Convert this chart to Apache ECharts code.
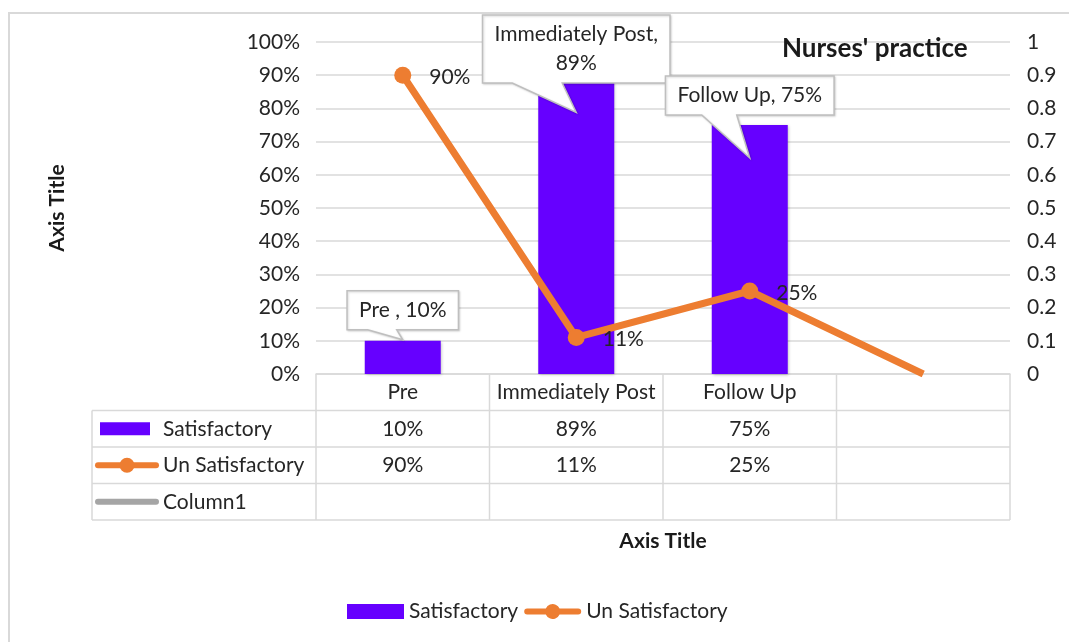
<!DOCTYPE html>
<html>
<head>
<meta charset="utf-8">
<script src="https://cdn.jsdelivr.net/npm/echarts@6/dist/echarts.min.js"></script>
<style>
  html, body { margin: 0; padding: 0; background: #fff; }
  #main { width: 1069px; height: 642px; }
</style>
</head>
<body>
<div id="main"></div>
<script>
// data
var categories = ['Pre ', 'Immediately Post', 'Follow Up', ''];
var satisfactory = [0.10, 0.89, 0.75, null];
var unSatisfactory = [0.90, 0.11, 0.25, null];
var column1 = [null, null, null, null];
var seriesNames = ['Satisfactory', 'Un Satisfactory', 'Column1'];
var leftTicks = ['0%', '10%', '20%', '30%', '40%', '50%', '60%', '70%', '80%', '90%', '100%'];
var rightTicks = ['0', '0.1', '0.2', '0.3', '0.4', '0.5', '0.6', '0.7', '0.8', '0.9', '1'];

// look
var FONT = 'Lato';
var FS = 21;
var PURPLE = '#6600ff';
var ORANGE = '#ed7d31';
var GRAY = '#a5a5a5';
var LINE = '#d9d9d9';
var TEXT = '#262626';
// thick line with a dot, like the Excel legend key
var LINE_DOT_ICON = 'path://M3,5 L21.63,5 A7.5,7.5 0 0 1 35.37,5 L54,5 A3,3 0 0 1 54,11 L35.37,11 A7.5,7.5 0 0 1 21.63,11 L3,11 A3,3 0 0 1 3,5 Z';

// callout placement relative to the bar top (Excel moved them by hand)
var calloutLayout = [
  { gap: 11, tipDrop: -1, baseL: -35, baseR: -6 },
  { gap: -4.5, tipDrop: 34, baseL: -64, baseR: -14 },
  { gap: 10, tipDrop: 33, baseL: -48, baseR: -13 }
];

function pct(v) {
  return Math.round(v * 100) + '%';
}

var chart = echarts.init(document.getElementById('main'));

var option = {
  animation: false,
  textStyle: { fontFamily: FONT },
  title: {
    text: "Nurses' practice",
    left: 782,
    top: 36,
    padding: 0,
    textStyle: { fontFamily: FONT, fontSize: 26, fontWeight: 'bold', color: '#1a1a1a' }
  },
  legend: {
    left: 347,
    top: 601,
    padding: 0,
    itemWidth: 57,
    itemHeight: 15,
    itemGap: 6,
    textStyle: { fontFamily: FONT, fontSize: FS, color: TEXT },
    data: [
      { name: seriesNames[0], icon: 'rect' },
      { name: seriesNames[1], icon: LINE_DOT_ICON }
    ]
  },
  grid: {
    left: 316,
    right: 59,
    top: 42,
    bottom: 268,
    containLabel: false,
    outerBoundsMode: 'none'
  },
  xAxis: {
    type: 'category',
    data: categories,
    boundaryGap: true,
    axisLine: { show: true, lineStyle: { color: LINE, width: 1.5 } },
    axisTick: { show: false },
    axisLabel: {
      interval: 0,
      margin: 8,
      fontSize: FS,
      color: TEXT,
      formatter: function (v) { return v.trim(); }
    },
    name: 'Axis Title',
    nameLocation: 'middle',
    nameGap: 157,
    nameTextStyle: { fontFamily: FONT, fontSize: FS, fontWeight: 'bold', color: '#1a1a1a' }
  },
  yAxis: [{
    type: 'value',
    min: 0,
    max: 1,
    interval: 0.1,
    axisLine: { show: false },
    axisTick: { show: false },
    axisLabel: {
      margin: 16,
      fontSize: FS,
      color: TEXT,
      formatter: function (v) { return leftTicks[Math.round(v * 10)]; }
    },
    splitLine: { show: true, lineStyle: { color: LINE, width: 1.5 } },
    name: 'Axis Title',
    nameLocation: 'middle',
    nameRotate: 90,
    nameGap: 248,
    nameTextStyle: { fontFamily: FONT, fontSize: FS, fontWeight: 'bold', color: '#1a1a1a' }
  }, {
    type: 'value',
    position: 'right',
    min: 0,
    max: 1,
    interval: 0.1,
    axisLine: { show: false },
    axisTick: { show: false },
    axisLabel: {
      margin: 17,
      fontSize: FS,
      color: TEXT,
      formatter: function (v) { return rightTicks[Math.round(v * 10)]; }
    },
    splitLine: { show: false }
  }],
  series: [{
    name: seriesNames[0],
    type: 'bar',
    data: satisfactory,
    barWidth: 76,
    itemStyle: {
      color: PURPLE,
      shadowColor: 'rgba(0,0,0,0.25)',
      shadowBlur: 3,
      shadowOffsetX: 1,
      shadowOffsetY: 1
    },
    z: 2
  }, {
    name: seriesNames[1],
    type: 'line',
    yAxisIndex: 1,
    // Excel shows the empty cell as zero
    data: unSatisfactory.map(function (v) {
      return v == null ? { value: 0, symbol: 'none', label: { show: false } } : v;
    }),
    symbol: 'circle',
    symbolSize: 17,
    lineStyle: { color: ORANGE, width: 7 },
    itemStyle: { color: ORANGE },
    label: {
      show: true,
      position: 'right',
      distance: 18,
      offset: [0, 2],
      fontSize: FS,
      color: TEXT,
      formatter: function (p) { return pct(p.value); }
    },
    z: 3
  }]
};
chart.setOption(option);

function textWidth(s, font) {
  var c = document.createElement('canvas').getContext('2d');
  c.font = font;
  return c.measureText(s).width;
}

function buildGraphics() {
  var els = [];
  var font = FS + 'px ' + FONT;
  // chart frame
  els.push({
    type: 'rect', silent: true, z: -10,
    shape: { x: 9, y: 13, width: 1100, height: 700 },
    style: { fill: 'none', stroke: LINE, lineWidth: 2 }
  });

  // data table under the plot
  var c0 = chart.convertToPixel({ xAxisIndex: 0 }, 0);
  var c1 = chart.convertToPixel({ xAxisIndex: 0 }, 1);
  var band = c1 - c0;
  var left = c0 - band / 2;
  var right = left + band * categories.length;
  var top = chart.convertToPixel({ yAxisIndex: 0 }, 0);
  var rowH = 36.5;
  var tableLeft = 92;
  var lineStyle = { stroke: LINE, lineWidth: 1.5 };
  var i, r;

  for (r = 1; r <= 4; r++) {
    els.push({ type: 'line', silent: true, shape: { x1: tableLeft, y1: top + r * rowH, x2: right, y2: top + r * rowH }, style: lineStyle });
  }
  for (i = 0; i <= categories.length; i++) {
    els.push({ type: 'line', silent: true, shape: { x1: left + i * band, y1: top, x2: left + i * band, y2: top + 4 * rowH }, style: lineStyle });
  }
  els.push({ type: 'line', silent: true, shape: { x1: tableLeft, y1: top + rowH, x2: tableLeft, y2: top + 4 * rowH }, style: lineStyle });

  var rowsData = [satisfactory, unSatisfactory, column1];
  for (r = 0; r < rowsData.length; r++) {
    var cy = top + (r + 1.5) * rowH;
    for (i = 0; i < categories.length; i++) {
      if (rowsData[r][i] == null) continue;
      els.push({
        type: 'text', silent: true,
        x: left + band * (i + 0.5), y: cy,
        style: { text: pct(rowsData[r][i]), font: font, fill: TEXT, align: 'center', verticalAlign: 'middle' }
      });
    }
    els.push({
      type: 'text', silent: true,
      x: 163, y: cy,
      style: { text: seriesNames[r], font: font, fill: TEXT, align: 'left', verticalAlign: 'middle' }
    });
  }
  // legend keys in the table
  var k1 = top + 1.5 * rowH, k2 = top + 2.5 * rowH, k3 = top + 3.5 * rowH;
  els.push({ type: 'rect', silent: true, shape: { x: 100, y: k1 - 6.5, width: 50, height: 13 }, style: { fill: PURPLE } });
  els.push({ type: 'line', silent: true, shape: { x1: 98, y1: k2, x2: 156, y2: k2 }, style: { stroke: ORANGE, lineWidth: 6, lineCap: 'round' } });
  els.push({ type: 'circle', silent: true, shape: { cx: 127, cy: k2, r: 7.5 }, style: { fill: ORANGE } });
  els.push({ type: 'line', silent: true, shape: { x1: 98, y1: k3, x2: 156, y2: k3 }, style: { stroke: GRAY, lineWidth: 6, lineCap: 'round' } });

  // callouts on the bars
  for (i = 0; i < calloutLayout.length; i++) {
    if (satisfactory[i] == null) continue;
    var p = chart.convertToPixel({ seriesIndex: 0 }, [i, satisfactory[i]]);
    var name = categories[i];
    var txt = name.length > 12 ? name + ',\n' + pct(satisfactory[i]) : name + ', ' + pct(satisfactory[i]);
    var lines = txt.split('\n');
    var tw = 0;
    lines.forEach(function (l) { tw = Math.max(tw, textWidth(l, font)); });
    var L = calloutLayout[i];
    var boxW = tw + 24;
    var boxH = lines.length * 29 + 10;
    var cx = p[0];
    var bottom = p[1] - L.gap;
    var bTop = bottom - boxH;
    var bl = cx - boxW / 2, br = cx + boxW / 2;
    els.push({
      type: 'polygon', silent: true, z: 20,
      shape: { points: [[bl, bTop], [br, bTop], [br, bottom], [cx + L.baseR, bottom], [cx, p[1] + L.tipDrop], [cx + L.baseL, bottom], [bl, bottom]] },
      style: { fill: '#fff', stroke: '#bfbfbf', lineWidth: 1.5, shadowColor: 'rgba(0,0,0,0.15)', shadowBlur: 2, shadowOffsetX: 1, shadowOffsetY: 1 }
    });
    els.push({
      type: 'text', silent: true, z: 21,
      x: cx, y: bTop + boxH / 2,
      style: { text: txt, font: font, fill: TEXT, align: 'center', verticalAlign: 'middle', lineHeight: 29 }
    });
  }
  chart.setOption({ graphic: els });
}
buildGraphics();
</script>
</body>
</html>
